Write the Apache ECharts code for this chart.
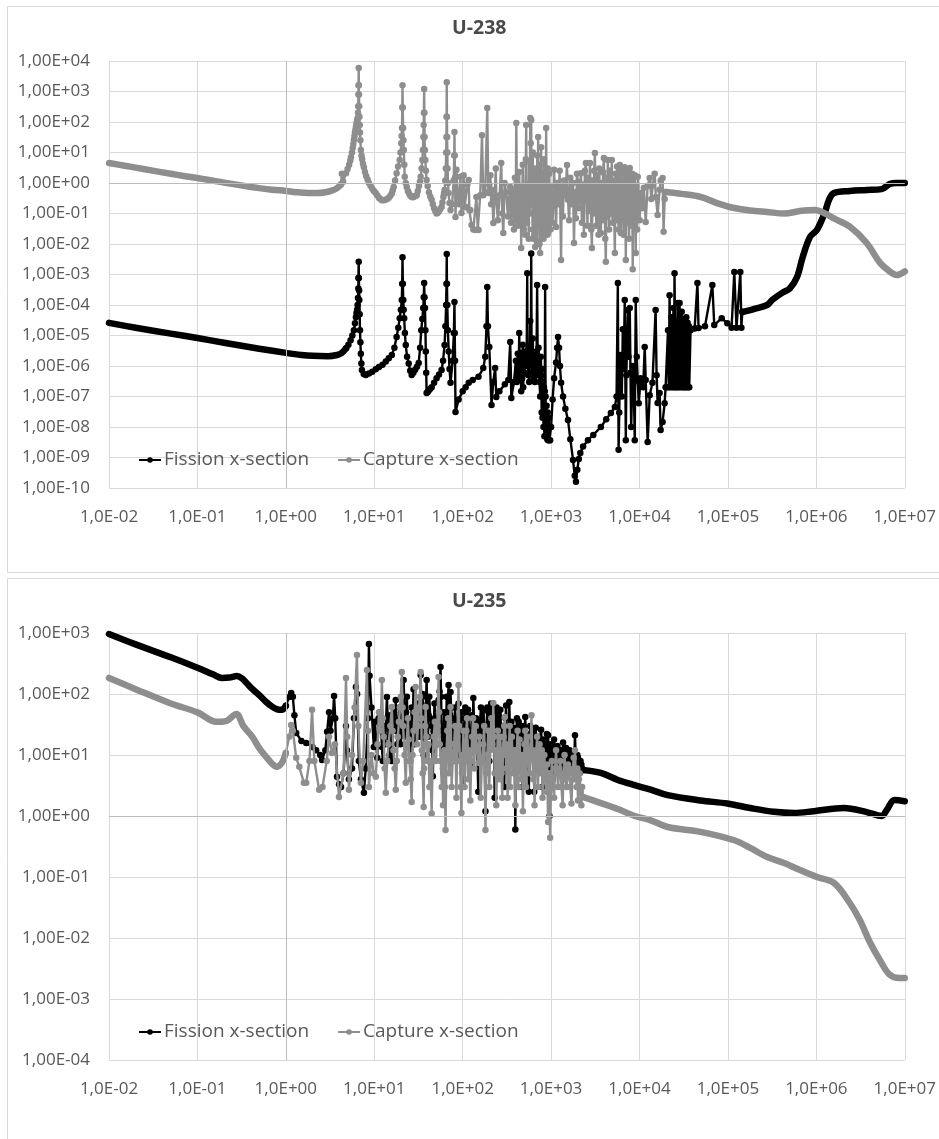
<!DOCTYPE html>
<html>
<head>
<meta charset="utf-8">
<script src="https://cdn.jsdelivr.net/npm/echarts@6/dist/echarts.min.js"></script>
<style>
html,body{margin:0;padding:0;background:#fff;}
#chart{width:939px;height:1139px;}
</style>
</head>
<body>
<div id="chart"></div>
<script>
// ---------- tick labels ----------
const xTickLabels = ['1,0E-02','1,0E-01','1,0E+00','1,0E+01','1,0E+02','1,0E+03','1,0E+04','1,0E+05','1,0E+06','1,0E+07'];
const u238YTickLabels = ['1,00E-10','1,00E-09','1,00E-08','1,00E-07','1,00E-06','1,00E-05','1,00E-04','1,00E-03','1,00E-02','1,00E-01','1,00E+00','1,00E+01','1,00E+02','1,00E+03','1,00E+04'];
const u235YTickLabels = ['1,00E-04','1,00E-03','1,00E-02','1,00E-01','1,00E+00','1,00E+01','1,00E+02','1,00E+03'];
const seriesNames = ['Fission x-section', 'Capture x-section'];
const chartTitles = ['U-238', 'U-235'];

// ---------- U-238 capture [energy eV, cross-section] ----------
const u238CaptureThermal = [[0.01,4.5],[0.015,3.7],[0.02,3.2],[0.03,2.6],[0.05,2.0],[0.07,1.7],[0.1,1.45],[0.15,1.2],[0.2,1.03],[0.3,0.85],[0.5,0.68],[0.7,0.6],[1.0,0.55],[1.3,0.5],[1.8,0.47],[2.3,0.47],[2.8,0.5],[3.3,0.56],[3.8,0.68],[4.2,0.9]];
const u238CaptureResonance = [[4.2,0.9],[4.3,2.0],[4.45,1.1],[4.79,2.1],[5.0,2.9],[5.2,4.0],[5.35,5.5],[5.45,7],[5.6,10],[5.7,14],[5.8,19],[5.89,26],[5.98,35],[6.05,45],[6.12,55],[6.2,69],[6.28,85],[6.35,100],[6.42,118],[6.5,135],[6.55,200],[6.58,330],[6.62,800],[6.64,1600],[6.67,5900],[6.7,1600],[6.72,800],[6.76,330],[6.8,150],[6.85,80],[6.9,45],[6.97,25],[7.06,12],[7.18,8],[7.3,6],[7.45,4.3],[7.64,3.3],[7.85,2.3],[8.1,1.7],[8.4,1.3],[8.7,1.0],[9.1,0.8],[9.5,0.65],[9.9,0.55],[10.4,0.47],[10.8,0.4],[11.3,0.33],[11.7,0.3],[12.2,0.27],[12.8,0.27],[13.4,0.28],[14.0,0.3],[14.6,0.33],[15.2,0.38],[15.8,0.45],[16.2,0.58],[16.6,0.74],[17.2,1.2],[17.9,2.1],[18.6,3.5],[19.4,5.7],[19.8,10],[20.2,20],[20.4,35],[20.6,63],[20.75,300],[20.87,1600],[21.0,300],[21.2,63],[21.4,25],[21.6,12],[21.85,4],[22.1,1.6],[22.7,1.0],[23.3,0.74],[24.0,0.55],[24.8,0.45],[25.6,0.38],[26.5,0.35],[27.5,0.34],[28.5,0.36],[29.4,0.38],[30.2,0.4],[31.1,0.55],[32,0.8],[32.8,1.1],[33.5,1.6],[34.3,3],[35,5.7],[35.5,12],[35.9,32],[36.2,80],[36.4,200],[36.68,1200],[36.9,200],[37.1,32],[37.4,12],[37.8,5.7],[38.4,2.5],[39.1,1.25],[40.2,0.8],[41.5,0.5],[43,0.36],[44.6,0.28],[46,0.2],[47.5,0.15],[49,0.12],[50.7,0.1],[52.3,0.105],[54,0.12],[55.8,0.14],[57.7,0.163],[59,0.23],[60.5,0.35],[61.5,0.45],[62.4,0.59],[63.5,1.2],[64.5,3],[65.1,10],[65.5,32],[65.8,150],[66.03,2000],[66.3,150],[66.7,32],[67.1,10],[67.5,3],[68.3,1.0],[69.2,0.47],[71,0.22],[72.9,0.13],[76,0.2],[79,1.2],[80.3,8],[80.75,47],[81.2,8],[82,1.5],[83,0.077],[85.1,2.7],[88,0.35],[91,0.2],[94.4,1.6],[96.9,0.104],[100,0.6],[102.5,1.8],[105,0.16],[110,0.163],[113,0.9],[116.9,1.25],[119,0.13],[122,0.13],[126,0.042],[132,0.03],[139,0.029],[143,0.35],[148,0.03],[151,0.029],[158,0.4],[165.3,37],[171,0.4],[180,0.5],[189.7,290],[195,0.47],[200,0.9],[206,1.8],[210,0.2],[215,0.6],[222,0.049],[230,0.35],[237,3],[240,0.3],[250,0.06],[262,0.4],[273,4.5],[280,0.1],[288,0.023],[298,1.0],[311,0.5],[325,0.08],[335,0.3],[345,0.74],[352,0.05],[360,0.6],[373,0.2],[380,0.03],[390,1.5],[397,0.06],[404,93],[410,1.0],[420,0.04],[428,0.3],[436,2.3],[445,0.05],[452,0.5],[459,0.0074],[465,0.8],[470,0.06],[478,4.0],[484,0.6],[490,0.03],[500,0.4],[510,0.02],[518,6],[523,80],[528,0.5],[535,0.05],[542,0.9],[551,0.4],[558,0.015],[565,5],[573,0.1],[581,135],[588,20],[596,116],[602,0.2],[610,1.2],[617,0.03],[622,10],[627,0.015],[633,0.3],[640,2],[645,0.02],[652,0.7],[661,0.008],[668,3],[675,0.05],[682,0.5],[690,0.012],[697,8],[705,0.3],[714,32],[720,0.04],[727,1.5],[733,0.1],[740,0.01],[745,4],[752,0.0051],[760,1.0],[766,0.06],[771,15],[780,0.2],[788,0.02],[795,2],[803,0.08],[813,0.3],[820,0.015],[828,6],[836,0.1],[845,0.7],[852,0.03],[860,2],[870,0.2],[879,64],[890,0.05],[900,0.6],[910,0.02],[918,3],[925,0.023],[935,0.4],[945,0.06],[955,2],[965,0.1],[975,0.5],[985,0.03],[995,0.8],[1000,0.3],[1040,0.05],[1081,2.7],[1110,0.3],[1138,0.036],[1170,1.0],[1210,0.2],[1250,2.5],[1297,0.003],[1320,0.74],[1360,0.08],[1400,1.2],[1450,0.4],[1514,3.9],[1553,0.28],[1600,0.06],[1650,1.5],[1700,0.2],[1770,1.0],[1815,0.0108],[1860,0.5],[1910,0.07],[1960,2.0],[2014,1.08],[2060,0.15],[2110,0.6],[2178,2.1],[2230,0.05],[2290,0.9],[2350,0.02],[2410,2.5],[2478,4.5],[2530,0.3],[2580,0.04],[2611,1.5],[2680,0.12],[2750,4.5],[2800,0.5],[2850,0.03],[2896,0.0074],[2950,1.2],[3020,0.1],[3070,2.5],[3127,9.6],[3180,0.5],[3240,0.04],[3300,1.8],[3382,0.28],[3440,0.02],[3500,3],[3570,0.15],[3656,0.023],[3720,1.0],[3800,0.06],[3870,2.2],[3952,6.6],[4020,0.3],[4100,0.015],[4161,0.0026],[4230,1.5],[4300,0.08],[4383,5.7],[4450,0.2],[4530,0.03],[4610,2.5],[4700,0.1],[4780,0.8],[4860,5.7],[4950,0.05],[5050,1.2],[5150,0.2],[5260,0.0051],[5360,2],[5460,0.06],[5570,3.5],[5686,0.4],[5800,0.03],[5890,1.5],[5986,3.9],[6050,0.15],[6140,0.023],[6250,2.8],[6350,0.08],[6470,1.0],[6600,0.02],[6700,2.0],[6810,3.3],[6900,0.2],[7000,0.003],[7120,1.4],[7240,0.05],[7360,2.5],[7500,0.3],[7620,0.015],[7760,3.1],[7880,0.1],[8000,1.2],[8150,0.04],[8250,2.0],[8380,0.0015],[8500,0.6],[8650,0.05],[8830,1.8],[9060,0.0051],[9200,0.8],[9400,0.03],[9550,1.6],[9800,0.3],[10050,0.06],[10320,0.47],[10800,0.15],[11200,0.7],[11750,0.053],[12360,0.8],[13030,1.46],[13600,0.3],[14200,0.9],[14830,2.0],[15300,0.35],[16030,0.089],[16870,0.6],[17330,1.2],[18240,1.46],[18710,0.025],[19230,0.3],[19720,0.51]];
const u238CaptureFast = [[19720,0.51],[30000,0.44],[48900,0.35],[75000,0.22],[118000,0.151],[180000,0.125],[278000,0.112],[432000,0.1],[653000,0.12],[964000,0.13],[1.25e6,0.1],[1.58e6,0.069],[2.39e6,0.037],[3.71e6,0.0108],[5.2e6,0.0025],[6.74e6,0.00126],[8.1e6,0.00096],[1e7,0.00126]];

// ---------- U-238 fission ----------
const u238FissionThermal = [[0.01,2.6e-5],[0.02,1.8e-5],[0.05,1.15e-5],[0.1,8.3e-6],[0.2,5.8e-6],[0.5,3.7e-6],[1.0,2.7e-6],[1.5,2.3e-6],[2.0,2.15e-6],[3.0,2.1e-6],[3.8,2.3e-6],[4.3,2.7e-6],[4.8,3.8e-6]];
const u238FissionResonance = [[4.8,3.8e-6],[5.1,5e-6],[5.4,7e-6],[5.65,1e-5],[5.89,1.5e-5],[6.05,2.5e-5],[6.2,4e-5],[6.3,5.5e-5],[6.4,7e-5],[6.48,1e-4],[6.55,1.7e-4],[6.6,3.5e-4],[6.62,7.7e-4],[6.67,2.6e-3],[6.7,7.7e-4],[6.74,3e-4],[6.78,1.46e-4],[6.84,5e-5],[6.9,1.5e-5],[6.97,6e-6],[7.05,2.5e-6],[7.15,1.2e-6],[7.25,7.4e-7],[7.6,5.5e-7],[8.03,5.1e-7],[8.7,5.7e-7],[9.5,6.5e-7],[10.4,7.8e-7],[11.3,9.3e-7],[12.4,1.1e-6],[13.5,1.4e-6],[14.6,1.8e-6],[15.8,2.3e-6],[16.9,4e-6],[17.9,8.9e-6],[18.7,1.8e-5],[19.4,3.7e-5],[20.0,7e-5],[20.5,1.46e-4],[20.7,5e-4],[20.87,3.7e-3],[21.05,5e-4],[21.3,1.46e-4],[21.5,7e-5],[21.8,3.7e-5],[22.2,1.2e-5],[22.7,4.9e-6],[23.5,2e-6],[24.5,1.2e-6],[25.5,7e-7],[26.5,5.1e-7],[27.7,6e-7],[29,7.5e-7],[30.4,9.5e-7],[31.8,1.25e-6],[33,4e-6],[34,1.5e-5],[35,3.5e-5],[35.8,8e-5],[36.3,1.8e-4],[36.68,5.3e-4],[37.0,1.8e-4],[37.5,8e-5],[37.9,1.5e-5],[38.3,3e-6],[38.7,6e-7],[39.1,1.3e-7],[40.2,1.4e-7],[41.5,1.6e-7],[43,1.8e-7],[44.6,2e-7],[47.5,2.8e-7],[50.7,4e-7],[54,5.3e-7],[57.7,7.4e-7],[60,1.5e-6],[62.4,4.9e-6],[63.8,2e-5],[65,1e-4],[65.6,5e-4],[66.03,4.7e-3],[66.4,5e-4],[67,1e-4],[68,1.5e-5],[69.5,3e-6],[71,8e-7],[72.9,2.8e-7],[77,1.5e-6],[79.5,1.2e-5],[80.75,1.25e-4],[81.3,1.2e-5],[82,1.5e-6],[83,3.1e-8],[90,8e-8],[100,1.5e-7],[108,2e-7],[117,2.8e-7],[130,3.5e-7],[151,4.4e-7],[171,8.6e-7],[180,2e-6],[186,2e-5],[189.7,3.9e-4],[193,2e-5],[200,4.2e-6],[212,5.3e-8],[222,3e-7],[233,8.6e-7],[240,9.6e-8],[260,1.5e-7],[300,2.5e-7],[328,3.5e-7],[345,6.1e-6],[355,8.9e-8],[380,3e-7],[400,1.5e-6],[410,3e-7],[420,2.5e-6],[430,6e-7],[436,1.2e-5],[445,4e-7],[452,2e-6],[459,1.5e-7],[465,2.7e-6],[470,4e-7],[478,5e-6],[484,2e-7],[492,1.8e-6],[500,6e-7],[510,3e-6],[520,1e-6],[530,3e-6],[537,1.1e-3],[542,2e-6],[551,5e-7],[558,4e-6],[565,3e-7],[575,2.5e-6],[581,3e-5],[590,2.7e-6],[596,4.9e-3],[602,2e-6],[610,6e-7],[620,8e-6],[627,2e-6],[635,4e-7],[645,1.5e-6],[655,3e-7],[665,2e-6],[675,5e-7],[685,3e-6],[695,4.5e-4],[705,2e-6],[715,5e-7],[721,4e-6],[730,1e-6],[740,3e-7],[752,1e-7],[765,2e-6],[775,5e-7],[782,3e-8],[790,8e-7],[800,2e-8],[812,3e-7],[820,1e-8],[830,2e-7],[840,5e-9],[848,1.5e-7],[856,3.9e-4],[866,1e-7],[880,8e-9],[890,5e-8],[905,4e-9],[915,3e-8],[925,3.7e-9],[940,2e-8],[955,3.7e-9],[975,3.7e-9],[1000,1e-8],[1040,8e-8],[1081,4e-7],[1138,1.3e-6],[1170,4e-6],[1199,8.9e-6],[1230,4e-6],[1260,1e-6],[1297,2.8e-7],[1365,1e-7],[1450,4e-8],[1553,1.7e-8],[1650,4e-9],[1770,8.3e-10],[1850,2.5e-10],[1910,1.6e-10],[1980,4e-10],[2060,9e-10],[2140,1.4e-9],[2300,2.3e-9],[2611,3.7e-9],[3000,5.5e-9],[3656,1e-8],[4200,1.8e-8],[4740,2.9e-8],[5260,4.5e-8],[5500,1e-7],[5686,5.3e-4],[5800,1.8e-9],[5900,3e-8],[6000,5e-7],[6140,2.3e-6],[6300,1e-7],[6470,1.6e-5],[6600,8e-7],[6810,1.46e-4],[7000,3.7e-9],[7100,5e-7],[7360,6.9e-5],[7500,2e-6],[7760,8e-5],[7900,6e-7],[8050,1e-8],[8380,1e-6],[8600,3e-7],[8830,3.7e-9],[9060,1.46e-4],[9300,2e-6],[9550,3.5e-7],[9800,6e-8],[10320,4e-7],[11000,2e-7],[11450,4.2e-6],[11750,3.5e-7],[12360,3.2e-9],[13030,1.1e-7],[14000,2.8e-7],[15210,6.9e-5],[15600,5e-7],[16030,6.1e-8],[16870,1.3e-7],[17330,8e-9],[18240,1.46e-8],[19230,6e-8],[19720,2e-7],[20500,2e-7],[21000,1.5e-5],[21400,2e-7],[21880,2.1e-4],[22440,2e-7],[23000,4e-5],[23500,2e-7],[24200,8e-5],[24500,2e-7],[24890,1.1e-3],[25500,2e-7],[26200,3e-5],[26500,2e-7],[26920,1.16e-4],[27500,2e-7],[28380,1.16e-4],[29000,2e-7],[30000,6e-5],[30500,2e-7],[31300,2.5e-5],[31800,2e-7],[32290,3.5e-5],[32700,2e-7],[33800,4e-5],[34200,2e-7],[34900,2.6e-5],[35500,2e-7],[36200,2e-5],[36500,2e-7],[37760,1.5e-5],[42000,1.7e-5],[45190,5.3e-4],[46500,1.76e-5],[55000,2e-5],[66680,4.5e-4],[70000,2.2e-5],[85000,3.7e-5],[98400,2.5e-5],[110000,1.8e-5],[118000,1.2e-3],[125000,1.8e-5],[138000,1.2e-3],[142000,1.8e-5],[145300,5.9e-5]];
const u238FissionFast = [[145300,5.9e-5],[200000,7.5e-5],[278000,1e-4],[316000,1.46e-4],[410000,2.5e-4],[500000,3.5e-4],[605000,8.3e-4],[700000,3.7e-3],[847000,1.7e-2],[1.016e6,2.9e-2],[1.25e6,0.11],[1.39e6,0.28],[1.58e6,0.47],[2.39e6,0.55],[3.71e6,0.59],[5.48e6,0.63],[6.74e6,0.93],[8.1e6,1.0],[1e7,1.0]];

// ---------- U-235 fission ----------
const u235FissionThermal = [[0.01,963],[0.02,650],[0.05,400],[0.1,270],[0.15,210],[0.19,183],[0.23,186],[0.28,197],[0.32,180],[0.36,151],[0.42,120],[0.5,96],[0.6,74],[0.7,62],[0.8,56],[0.9,55],[1.0,64]];
const u235FissionResonance = [[1.0,64],[1.09,89],[1.15,104],[1.2,90],[1.25,45],[1.31,23],[1.5,17],[1.7,15.7],[2.0,13.5],[2.2,12],[2.45,10],[2.57,8.3],[2.8,12],[2.93,24],[3.08,50],[3.2,25],[3.4,40],[3.51,93],[3.62,40],[3.79,4.4],[4.0,3.3],[4.21,3.0],[4.5,5],[4.79,30],[4.91,12],[5.17,4],[5.6,6],[5.89,40],[6.2,130],[6.4,100],[6.7,8],[7.06,4],[7.64,2.4],[8.0,6],[8.5,40],[8.7,660],[8.85,200],[9.3,60],[9.89,13.5],[10.2,35],[10.4,20],[10.8,9],[11.2,40],[11.7,50],[12.0,25],[12.2,13.5],[12.5,8],[12.9,30],[13.3,15],[13.9,89],[14.2,40],[14.5,20],[14.9,10],[15.2,45],[15.5,20],[15.8,8],[16.1,30],[16.7,50],[17.1,25],[17.5,80],[17.8,30],[18.2,15],[18.7,35],[19.3,60],[19.8,15],[20.5,25],[21.1,60],[21.5,170],[22.0,45],[22.5,20],[22.9,50],[23.4,90],[23.9,25],[24.3,35],[24.8,15],[25.5,8],[26.0,30],[26.5,60],[27.2,30],[27.8,120],[28.1,40],[28.5,15],[29.5,35],[30.6,70],[31.3,25],[32.1,20],[32.8,60],[33.5,205],[34.0,70],[34.4,40],[34.8,20],[35.2,100],[35.7,30],[36.2,10],[37.0,25],[38.1,50],[38.6,90],[39.1,170],[39.8,50],[40.5,20],[41.2,45],[41.9,90],[43.0,40],[44.6,30],[45.3,12],[46,4.5],[47,25],[48,70],[49.5,35],[51,15],[52,35],[53.4,80],[54.8,110],[56.2,277],[57,90],[58,25],[59,12],[60,6],[61,20],[62,50],[63,25],[64,12],[65,30],[66,90],[67.5,40],[69.2,141],[70,50],[71,20],[72,45],[72.9,108],[74,60],[74.8,40],[76,20],[78,8],[80,30],[82,60],[84,25],[86,15],[88,35],[89.7,70],[91,30],[93,10],[95,25],[96.9,50],[98,15],[100,3],[102,20],[105,40],[107,60],[110,12],[112,30],[115,55],[118,25],[122,7],[124,20],[127,45],[130,25],[132,86],[134,40],[137,12],[140,25],[142,40],[146,15],[150,2.5],[153,20],[157,35],[161,60],[165,10],[168,30],[172,55],[176,20],[181,1.2],[183,15],[186,30],[190,60],[195,51],[198,20],[200,8],[203,25],[206,40],[210,70],[215,15],[218,30],[222,51],[226,20],[230,2],[234,15],[238,35],[242,60],[246,12],[250,25],[255,45],[260,20],[267,55],[271,25],[275,10],[280,22],[285,30],[290,15],[295,3],[300,20],[305,40],[310,65],[316,12],[321,25],[326,30],[331,15],[337,74],[341,30],[346,15],[351,25],[356,35],[363,18],[370,8],[375,20],[380,28],[387,12],[394,0.6],[399,10],[405,20],[411,40],[418,6],[424,18],[430,35],[437,15],[445,10],[452,30],[460,25],[467,12],[475,3],[482,15],[490,30],[500,18],[510,42],[517,20],[525,8],[532,18],[540,22],[550,12],[560,2.5],[570,15],[580,30],[590,12],[600,10],[610,20],[620,25],[632,12],[645,2.5],[657,15],[670,28],[685,14],[700,9],[715,18],[730,20],[750,10],[771,26],[785,12],[800,3],[815,10],[830,18],[845,12],[860,8],[878,15],[895,22],[910,10],[925,21],[942,9],[960,1.0],[980,10],[1000,15],[1020,8],[1040,4],[1060,12],[1080,18],[1105,9],[1130,7],[1155,13],[1180,14],[1205,8],[1230,5],[1260,10],[1290,12],[1325,7],[1365,16],[1390,9],[1420,6],[1450,10],[1480,13],[1515,7],[1550,5.5],[1585,10],[1620,12],[1660,8],[1700,6],[1740,10],[1780,11],[1820,7],[1862,21],[1900,9],[1950,6],[1980,10],[2014,9],[2060,6],[2100,5],[2150,8],[2200,7],[2245,6],[2291,5.7]];
const u235FissionFast = [[2291,5.7],[3656,5.1],[5686,3.9],[8830,3.2],[13370,2.7],[20800,2.2],[48900,1.8],[98400,1.6],[178600,1.35],[333000,1.17],[560000,1.12],[940000,1.2],[2.05e6,1.35],[3.71e6,1.16],[5.48e6,1.0],[6.24e6,1.25],[7.67e6,1.83],[1e7,1.75]];

// ---------- U-235 capture ----------
const u235CaptureThermal = [[0.01,183],[0.02,120],[0.05,70],[0.1,50],[0.164,35],[0.21,36],[0.276,47],[0.33,30],[0.42,19.7],[0.5,13],[0.6,9.3],[0.7,7.2],[0.78,6.4],[0.9,7.4],[1.0,10.8]];
const u235CaptureResonance = [[1.0,10.8],[1.09,20],[1.15,31],[1.2,25],[1.31,9],[1.42,6.4],[1.6,3.5],[1.7,3.5],[1.85,8],[1.98,55],[2.1,8],[2.38,2.7],[2.6,3],[2.9,8],[3.08,20],[3.33,10.8],[3.6,15],[3.99,2.05],[4.5,5],[4.79,183],[4.95,20],[5.17,2.7],[5.6,10],[6.0,60],[6.37,435],[6.6,30],[7.06,3.5],[7.5,8],[8.26,247],[8.5,25],[8.7,3.0],[9.3,10],[9.8,5],[10.4,4.4],[10.9,15],[11.3,50],[11.8,25],[12.2,170],[12.5,40],[12.8,20],[13.1,6],[13.5,2.4],[14.0,8],[14.5,15],[15.2,30],[15.8,61],[16.1,25],[16.5,12],[17.0,6],[17.5,2.7],[18.0,8],[18.5,20],[19.0,35],[19.5,60],[20.0,90],[20.5,229],[20.9,60],[21.2,30],[22.0,10],[22.7,3.5],[23.3,15],[24,40],[24.5,18],[25,8],[25.8,4],[26.5,1.7],[27.1,10],[27.8,25],[28.6,50],[29.4,130],[30.0,35],[30.5,15],[31.2,30],[32,60],[32.8,90],[33.5,229],[34.0,40],[34.5,12],[35.3,5],[36.2,1.4],[36.6,6],[37,15],[37.6,30],[38.1,61],[39,20],[40,8],[41,15],[42,3],[43,8],[44.6,1.1],[45.8,8],[47,20],[48.5,35],[50,8],[51.5,25],[53.4,190],[54,50],[55,15],[56.5,8],[58,3],[59,10],[60,1.5],[61,5],[62,12],[63,3],[64,0.59],[65.5,10],[67,25],[68.5,40],[70,5],[71.5,15],[72.9,61],[74,15],[75,3],[77,8],[80,15],[82,30],[85,2],[87,20],[89.7,141],[91,30],[93,8],[95,3],[96.9,1.12],[98,5],[100,10],[102,25],[105,3],[107,8],[110,25],[112,40],[115,4],[118,12],[122,1.8],[125,8],[128,20],[131,40],[135,6],[137,15],[140,30],[145,12],[151,7.4],[155,20],[160,2],[165,8],[170,15],[175,30],[181,0.59],[185,5],[190,10],[195,25],[200,3],[205,12],[211,40],[216,15],[222,71],[226,20],[230,5],[235,12],[240,1.5],[245,8],[250,25],[255,12],[260,4],[265,20],[270,12],[275,5],[280,2],[285,10],[290,20],[295,30],[300,42],[305,15],[310,6],[316,12],[322,2],[328,8],[335,15],[340,30],[345,3],[352,10],[360,20],[367,8],[375,5],[385,12],[394,1.5],[402,5],[410,12],[418,25],[425,3],[432,8],[440,18],[450,7],[460,4],[470,10],[480,1.2],[490,6],[500,15],[510,25],[520,3],[532,9],[545,20],[557,8],[570,5],[585,12],[600,45],[612,12],[627,4],[638,10],[650,1.5],[665,6],[680,12],[695,20],[710,3],[725,8],[740,15],[755,5],[771,6],[785,12],[800,2],[820,5],[840,10],[860,4],[880,2.5],[900,7],[925,0.8],[950,5],[975,0.44],[1000,4],[1020,8],[1050,3],[1081,2],[1110,6],[1138,12],[1170,5],[1200,3],[1235,6],[1270,8],[1310,3],[1350,1.5],[1385,5],[1420,10],[1460,4],[1500,3],[1550,7],[1600,6],[1650,3],[1700,1.6],[1750,5],[1800,9],[1830,4],[1862,12],[1900,5],[1950,3],[1980,6],[2014,1.8],[2060,4],[2100,5],[2150,2.5],[2200,1.5],[2245,3],[2291,2.05]];
const u235CaptureFast = [[2291,2.05],[3656,1.63],[5686,1.3],[8830,1.0],[13370,0.85],[20800,0.66],[48900,0.55],[118000,0.4],[178600,0.3],[278000,0.213],[432000,0.17],[653000,0.13],[1.016e6,0.1],[1.58e6,0.08],[2.39e6,0.0375],[3.10e6,0.0197],[4.02e6,0.0086],[5.2e6,0.0044],[6.74e6,0.0025],[8.73e6,0.0022],[1e7,0.0022]];

// ---------- styling ----------
const FONT = 'Open Sans';
const TXT = '#595959';
const GRID = '#d9d9d9';
const BLACK = '#000000';
const GREY = '#8e8e8e';

function expIdx(v) { return Math.round(Math.log10(v)); }

function xAxisFor(gridIndex) {
  return {
    type: 'log', logBase: 10, gridIndex: gridIndex,
    min: 0.01, max: 1e7, interval: 1, splitNumber: 9,
    axisLine: { show: false }, axisTick: { show: false },
    splitLine: { show: true, lineStyle: { color: GRID, width: 1 } },
    axisLabel: {
      color: TXT, fontFamily: FONT, fontSize: 17, margin: 19, lineHeight: 20,
      formatter: function (v) { return xTickLabels[expIdx(v) + 2]; }
    }
  };
}
function yAxisFor(gridIndex, minExp, maxExp, labels) {
  return {
    type: 'log', logBase: 10, gridIndex: gridIndex,
    min: Math.pow(10, minExp), max: Math.pow(10, maxExp), interval: 1, splitNumber: maxExp - minExp,
    axisLine: { show: false }, axisTick: { show: false },
    splitLine: { show: true, lineStyle: { color: GRID, width: 1 } },
    axisLabel: {
      color: TXT, fontFamily: FONT, fontSize: 17, margin: 19,
      formatter: function (v) { return labels[expIdx(v) - minExp]; }
    }
  };
}
function markerSeries(name, data, color, idx, z) {
  return {
    name: name, type: 'line', xAxisIndex: idx, yAxisIndex: idx, data: data, z: z,
    symbol: 'circle', symbolSize: 6.5, showSymbol: true, showAllSymbol: true,
    itemStyle: { color: color }, lineStyle: { color: color, width: 2.4 },
    emphasis: { disabled: true }, silent: true
  };
}
function thickSeries(name, data, color, idx, z) {
  return {
    name: name, type: 'line', xAxisIndex: idx, yAxisIndex: idx, data: data, z: z,
    symbol: 'none', showSymbol: false, smooth: 0.35,
    itemStyle: { color: color }, lineStyle: { color: color, width: 6.5, cap: 'round', join: 'round' },
    emphasis: { disabled: true }, silent: true
  };
}
function axisCross(idx) {
  return {
    type: 'line', xAxisIndex: idx, yAxisIndex: idx, data: [[1, 1]], showSymbol: false, symbol: 'none',
    lineStyle: { width: 0 }, z: 1, silent: true,
    markLine: {
      silent: true, symbol: 'none', label: { show: false },
      lineStyle: { color: '#bcbcbc', type: 'solid', width: 1 },
      data: [{ xAxis: 1 }, { yAxis: 1 }]
    }
  };
}
function legendFor(top) {
  return {
    left: 138, top: top, itemWidth: 22, itemHeight: 7, itemGap: 28, padding: 0,
    data: seriesNames, selectedMode: false,
    textStyle: { color: TXT, fontFamily: FONT, fontSize: 19, lineHeight: 24, padding: [0, 0, 0, -2] }
  };
}

const option = {
  animation: false,
  backgroundColor: '#ffffff',
  graphic: [
    { type: 'rect', shape: { x: 7.5, y: 6.5, width: 950, height: 566 }, style: { fill: 'none', stroke: '#d9d9d9', lineWidth: 1 }, silent: true, z: -10 },
    { type: 'rect', shape: { x: 7.5, y: 578.5, width: 950, height: 600 }, style: { fill: 'none', stroke: '#d9d9d9', lineWidth: 1 }, silent: true, z: -10 }
  ],
  title: [
    { text: chartTitles[0], left: 452, top: 16, padding: 0, textStyle: { fontFamily: FONT, fontSize: 19.5, fontWeight: 'bold', color: '#4a4a4a', lineHeight: 24 } },
    { text: chartTitles[1], left: 452, top: 589, padding: 0, textStyle: { fontFamily: FONT, fontSize: 19.5, fontWeight: 'bold', color: '#4a4a4a', lineHeight: 24 } }
  ],
  legend: [legendFor(448), legendFor(1020)],
  grid: [
    { left: 109, top: 61, width: 799, height: 427, containLabel: false },
    { left: 109, top: 633, width: 799, height: 427, containLabel: false }
  ],
  xAxis: [xAxisFor(0), xAxisFor(1)],
  yAxis: [yAxisFor(0, -10, 4, u238YTickLabels), yAxisFor(1, -4, 3, u235YTickLabels)],
  series: [
    markerSeries(seriesNames[0], u238FissionResonance, BLACK, 0, 3),
    markerSeries(seriesNames[1], u238CaptureResonance, GREY, 0, 4),
    thickSeries(seriesNames[0], u238FissionThermal, BLACK, 0, 3),
    thickSeries(seriesNames[0], u238FissionFast, BLACK, 0, 3),
    thickSeries(seriesNames[1], u238CaptureThermal, GREY, 0, 4),
    thickSeries(seriesNames[1], u238CaptureFast, GREY, 0, 4),
    markerSeries(seriesNames[0], u235FissionResonance, BLACK, 1, 3),
    markerSeries(seriesNames[1], u235CaptureResonance, GREY, 1, 4),
    thickSeries(seriesNames[0], u235FissionThermal, BLACK, 1, 3),
    thickSeries(seriesNames[0], u235FissionFast, BLACK, 1, 3),
    thickSeries(seriesNames[1], u235CaptureThermal, GREY, 1, 4),
    thickSeries(seriesNames[1], u235CaptureFast, GREY, 1, 4),
    axisCross(0),
    axisCross(1)
  ]
};

const chart = echarts.init(document.getElementById('chart'), null, { renderer: 'canvas' });
chart.setOption(option);
</script>
</body>
</html>
